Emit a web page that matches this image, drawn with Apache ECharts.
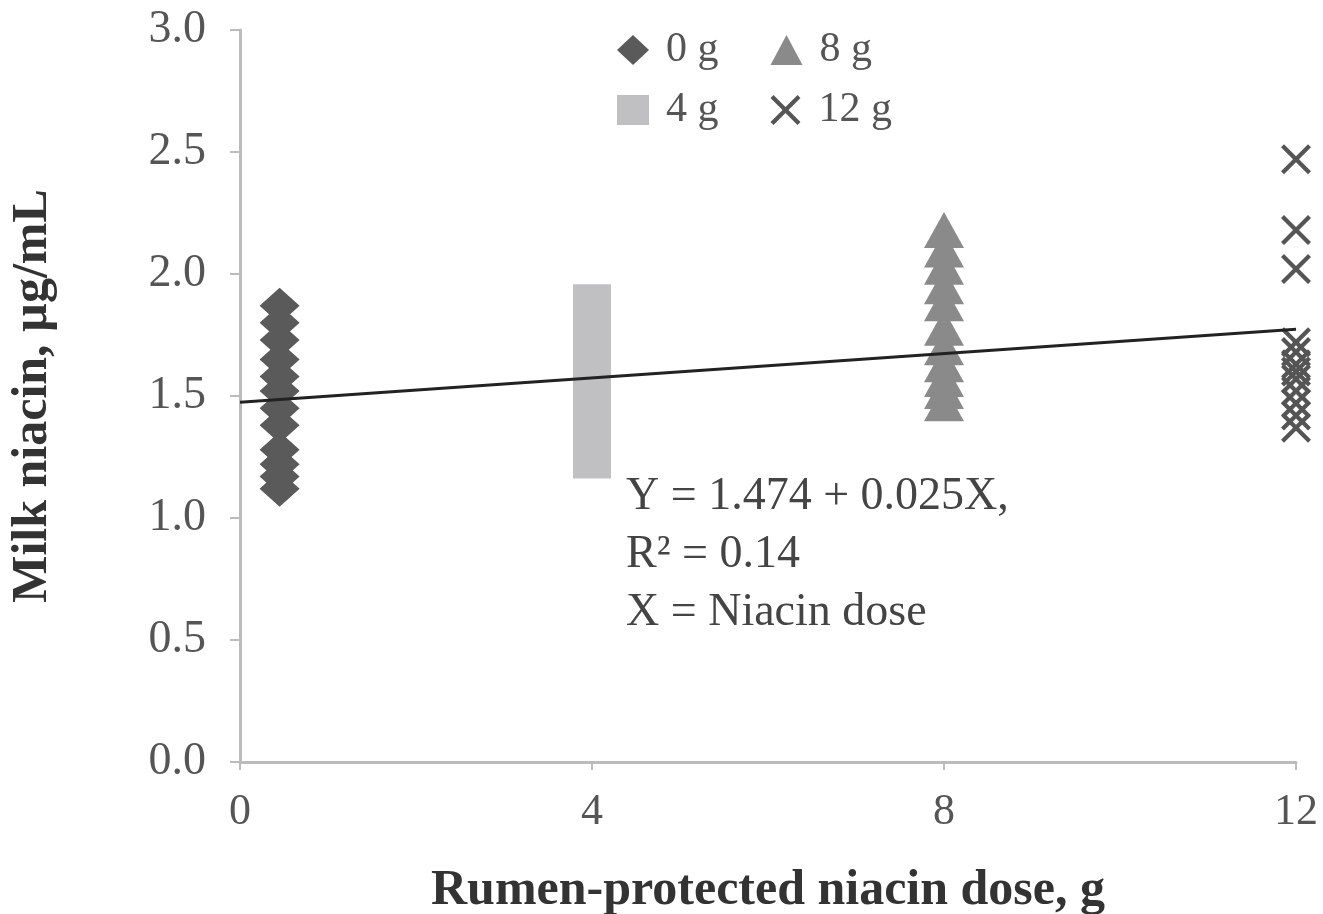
<!DOCTYPE html>
<html>
<head>
<meta charset="utf-8">
<script src="https://cdn.jsdelivr.net/npm/echarts@6/dist/echarts.min.js"></script>
<style>
html, body { margin: 0; padding: 0; background: #fff; }
#chart { width: 1323px; height: 914px; }
</style>
</head>
<body>
<div id="chart"></div>
<script>
// doses where each group is plotted
var doseX = { g0: 0.45, g4: 4, g8: 8, g12: 12 };
// milk niacin readings, ug/mL
var vals0g = [1.87, 1.80, 1.73, 1.65, 1.58, 1.52, 1.45, 1.38, 1.28, 1.22, 1.17, 1.12];
var vals4g = [1.88, 1.82, 1.75, 1.68, 1.62, 1.55, 1.50, 1.44, 1.38, 1.32, 1.27, 1.24];
var vals8g = [2.18, 2.10, 2.03, 1.95, 1.88, 1.78, 1.70, 1.63, 1.57, 1.52, 1.47];
var vals12g = [2.47, 2.18, 2.02, 1.72, 1.68, 1.63, 1.60, 1.57, 1.52, 1.47, 1.42, 1.37];
// regression Y = 1.474 + 0.025X
var fitX = [0, 12];
var intercept = 1.474, slope = 0.025;

function pts(x, arr) {
    return arr.map(function (v) { return [x, v]; });
}

var crossPath = 'path://M0,1L1,0L5,4L9,0L10,1L6,5L10,9L9,10L5,6L1,10L0,9L4,5Z';
var serif = '"Liberation Serif", "Times New Roman", serif';
var legendText = { fontFamily: serif, fontSize: 42, color: '#555', padding: [0, 0, 0, 12] };

var chart = echarts.init(document.getElementById('chart'));
var option = {
    animation: false,
    textStyle: { fontFamily: serif },
    grid: { left: 240, right: 27, top: 30, bottom: 152, containLabel: false, outerBoundsMode: 'none' },
    legend: [{
        left: 612, top: 24, itemGap: 52, itemWidth: 32, itemHeight: 30,
        textStyle: legendText,
        data: [{ name: '0 g', icon: 'diamond' }, { name: '8 g', icon: 'triangle' }]
    }, {
        left: 612, top: 84, itemGap: 52, itemWidth: 32, itemHeight: 30,
        textStyle: legendText,
        data: [{ name: '4 g', icon: 'rect' }, { name: '12 g', icon: crossPath }]
    }],
    xAxis: {
        type: 'value', min: 0, max: 12, interval: 4,
        name: 'Rumen-protected niacin dose, g',
        nameLocation: 'middle', nameGap: 104,
        nameTextStyle: { fontFamily: serif, fontSize: 50, fontWeight: 'bold', color: '#333' },
        axisLine: { lineStyle: { color: '#bbb', width: 3 } },
        axisTick: { length: 8, lineStyle: { color: '#bbb', width: 2 } },
        axisLabel: { fontSize: 44, color: '#555', margin: 28 },
        splitLine: { show: false }
    },
    yAxis: {
        type: 'value', min: 0, max: 3, interval: 0.5,
        name: 'Milk niacin, µg/mL',
        nameLocation: 'middle', nameGap: 182,
        nameTextStyle: { fontFamily: serif, fontSize: 50, fontWeight: 'bold', color: '#333' },
        axisLine: { show: true, lineStyle: { color: '#bbb', width: 3 } },
        axisTick: { show: true, length: 10, lineStyle: { color: '#bbb', width: 2 } },
        axisLabel: { fontSize: 46, color: '#555', margin: 34,
            formatter: function (v) { return v.toFixed(1); } },
        splitLine: { show: false }
    },
    series: [{
        name: '0 g', type: 'scatter', symbol: 'diamond', symbolSize: [40, 36],
        itemStyle: { color: '#5a5a5a', opacity: 1 },
        data: pts(doseX.g0, vals0g)
    }, {
        name: '4 g', type: 'scatter', symbol: 'rect', symbolSize: 38,
        itemStyle: { color: '#c0c0c2', opacity: 1 },
        data: pts(doseX.g4, vals4g)
    }, {
        name: '8 g', type: 'scatter', symbol: 'triangle', symbolSize: [40, 36],
        itemStyle: { color: '#8a8a8a', opacity: 1 },
        data: pts(doseX.g8, vals8g)
    }, {
        name: '12 g', type: 'scatter', symbol: crossPath, symbolSize: 30,
        itemStyle: { color: '#555', opacity: 1 },
        data: pts(doseX.g12, vals12g)
    }, {
        name: 'fit', type: 'line', symbol: 'none', silent: true,
        lineStyle: { color: '#222', width: 3 },
        data: fitX.map(function (x) { return [x, intercept + slope * x]; }),
        z: 5
    }],
    graphic: [{
        type: 'text', left: 626, top: 468,
        style: {
            text: 'Y = 1.474 + 0.025X,\nR² = 0.14\nX = Niacin dose',
            font: '46px ' + serif, fill: '#444', lineHeight: 58
        }
    }]
};
chart.setOption(option);
</script>
</body>
</html>
